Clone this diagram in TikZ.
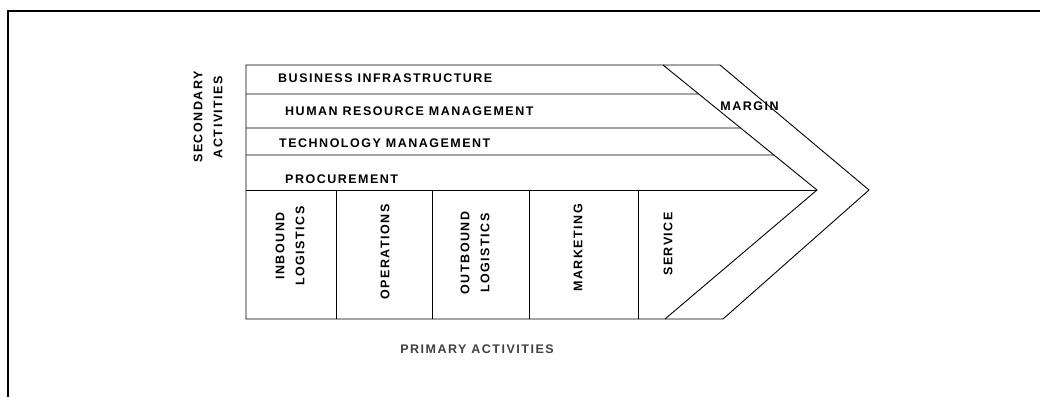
\documentclass[tikz,border=0pt]{standalone}
\usepackage{fontspec}
\setmainfont{Liberation Sans}
\newfontfamily\chainfont[LetterSpace=12]{Liberation Sans}
\usetikzlibrary{calc}

\tikzset{
  txt/.style={font=\chainfont\bfseries\fontsize{12.5}{20}\selectfont, inner sep=0pt, text=black},
  lbl/.style={txt, text height=9pt, text depth=0pt},
  vlbl/.style={txt, rotate=90, align=center},
  edge/.style={line width=0.9pt, line join=miter},
}

\begin{document}
\begin{tikzpicture}[x=1pt,y=-1pt]
  \useasboundingbox (0,0) rectangle (1040,397);

  % FRAME
  \coordinate (f0) at (8,397); \coordinate (f1) at (8,11); \coordinate (f2) at (1040,11);
  \draw[line width=1.2pt] (f0)--(f1)--(f2);

  % CHAIN OUTLINE
  \coordinate (c0) at (246,65); % top left
  \coordinate (c1) at (663,65); % top inner
  \coordinate (c2) at (720,65); % top outer
  \coordinate (c3) at (869,190); % outer tip
  \coordinate (c4) at (723,319); % bottom outer
  \coordinate (c5) at (665,319); % bottom inner
  \coordinate (c6) at (817,190); % inner tip
  \coordinate (c7) at (246,319); % bottom left
  \draw[edge] (c0)--(c2)--(c3)--(c4)--(c7)--cycle;
  \draw[edge] (c1)--(c6)--(c5);

  % SUPPORT ROWS
  \coordinate (r1) at (246,94); \coordinate (d1) at ($(c1)!0.232!(c6)$);
  \coordinate (r2) at (246,128); \coordinate (d2) at ($(c1)!0.504!(c6)$);
  \coordinate (r3) at (246,155); \coordinate (d3) at ($(c1)!0.72!(c6)$);
  \coordinate (r4) at (246,190);
  \draw[edge] (r1)--(d1); \draw[edge] (r2)--(d2); \draw[edge] (r3)--(d3);
  \draw[edge] (r4)--(c6);

  % PRIMARY COLUMNS
  \coordinate (p1) at (336,190); \coordinate (q1) at (336,319);
  \coordinate (p2) at (432,190); \coordinate (q2) at (432,319);
  \coordinate (p3) at (529,190); \coordinate (q3) at (529,319);
  \coordinate (p4) at (638,190); \coordinate (q4) at (638,319);
  \draw[edge] (p1)--(q1); \draw[edge] (p2)--(q2);
  \draw[edge] (p3)--(q3); \draw[edge] (p4)--(q4);

  % LABELS
  \node[lbl, anchor=west] (bi) at (278,78) {BUSINESS INFRASTRUCTURE};
  \node[lbl, anchor=west] (hr) at (285,111) {HUMAN RESOURCE MANAGEMENT};
  \node[lbl, anchor=west] (tm) at (279,143) {TECHNOLOGY MANAGEMENT};
  \node[lbl, anchor=west] (pr) at (285,179) {PROCUREMENT};
  \node[lbl] (mg) at (749.5,106) {MARGIN};
  \node[vlbl] (sa) at (208,117) {SECONDARY\\ACTIVITIES};
  \node[vlbl] (il) at (290,246) {INBOUND\\LOGISTICS};
  \node[vlbl] (op) at (385,252) {OPERATIONS};
  \node[vlbl] (ol) at (475,253) {OUTBOUND\\LOGISTICS};
  \node[vlbl] (mk) at (578,248) {MARKETING};
  \node[vlbl] (sv) at (668,244) {SERVICE};
  \node[lbl, text=black!75] (pa) at (477,349) {PRIMARY ACTIVITIES};
\end{tikzpicture}
\end{document}
